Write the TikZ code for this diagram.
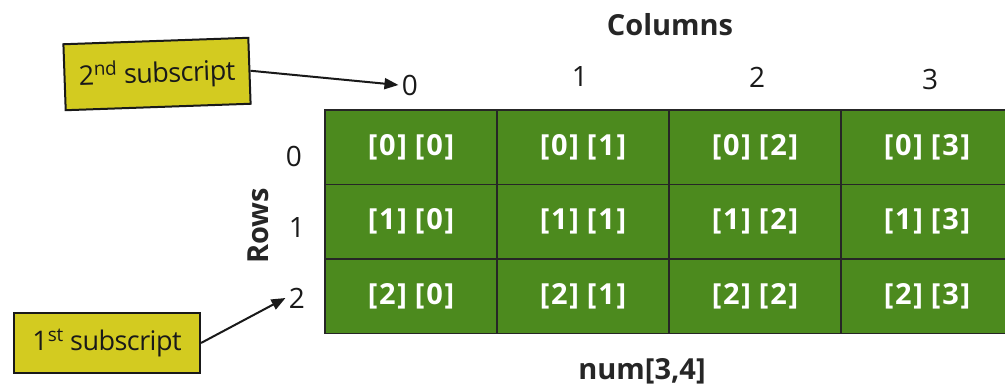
\documentclass[tikz,border=0pt]{standalone}
\usepackage{fontspec}
\setmainfont{Open Sans}
\usetikzlibrary{arrows.meta}
\definecolor{cellgreen}{HTML}{4C8A1E}
\definecolor{tagyellow}{HTML}{D3CB20}
\tikzset{
  cell/.style={draw=black!85, line width=1.6pt, fill=cellgreen, minimum width=172pt, minimum height=74.5pt, inner sep=0pt, text=white, font=\fontsize{29}{32}\selectfont\bfseries\addfontfeature{LetterSpace=6}},
  idx/.style={font=\fontsize{28}{32}\selectfont, text=black!90},
  title/.style={font=\fontsize{29}{33}\selectfont\bfseries, text=black!85},
  tag/.style={draw=black!90, line width=2pt, fill=tagyellow, inner sep=0pt, font=\fontsize{27}{31}\selectfont\addfontfeature{LetterSpace=-2}, text=black!90},
  pointer/.style={-{Triangle[length=14pt,width=11pt]}, line width=2pt, black!90}
}
\begin{document}
\begin{tikzpicture}[x=1pt,y=-1pt]
\useasboundingbox (0,0) rectangle (1005,391);
\foreach \r in {0,1,2}{
  \foreach \c in {0,1,2,3}{
    \node[cell] (c\r\c) at ({325+86+172*\c},{110+37.25+74.5*\r}) {[\r]\hspace{8pt}[\c]};
  }
}
\node[title] (columns) at (670,25) {Columns};
\node[idx] (k0) at (410,85) {0};
\node[idx] (k1) at (580,77) {1};
\node[idx] (k2) at (757,77) {2};
\node[idx] (k3) at (930,79) {3};
\node[idx] (r0) at (294,156) {0};
\node[idx] (r1) at (297,228) {1};
\node[idx] (r2) at (297,298) {2};
\node[title, rotate=90] (rows) at (258,226) {Rows};
\node[title] (num) at (642,371) {num[3,4]};
\node[tag, minimum width=185pt, minimum height=66pt, rotate=2] (second) at (157,74) {2\textsuperscript{nd} subscript};
\node[tag, minimum width=186pt, minimum height=60pt] (first) at (107,343) {1\textsuperscript{st} subscript};
\draw[pointer] (second.east) -- (k0.west);
\draw[pointer] (first.east) -- (r2.west);
\end{tikzpicture}
\end{document}
